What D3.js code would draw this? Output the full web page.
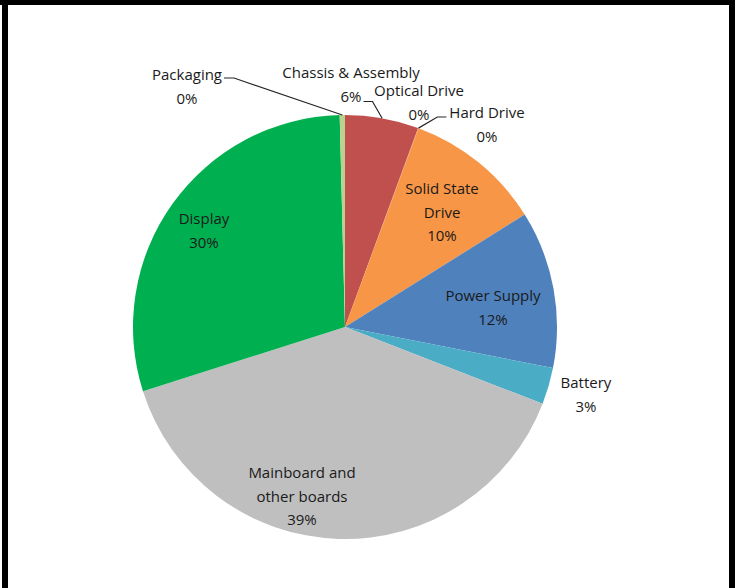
<!DOCTYPE html>
<html><head><meta charset="utf-8">
<script src="https://cdn.jsdelivr.net/npm/d3@7"></script>
<style>
html,body{margin:0;padding:0;background:#fff;}
svg{display:block;}
text{font-family:"Open Sans",Lato,sans-serif;font-size:15px;fill:#1a1a1a;}
</style></head>
<body>
<svg id="c" width="737" height="588"></svg>
<script>
const categories = ["Chassis & Assembly","Optical Drive","Hard Drive","Solid State Drive","Power Supply","Battery","Mainboard and other boards","Display","Packaging"];
const values = [5.6, 0.02, 0.02, 10.46, 12.0, 2.8, 39.2, 29.5, 0.4];
const colors = ["#c0504d","#c0504d","#f79646","#f79646","#4f81bd","#4bacc6","#bfbfbf","#00b050","#bad18f"];
const labelLines = [["Chassis & Assembly"],["Optical Drive"],["Hard Drive"],["Solid State","Drive"],["Power Supply"],["Battery"],["Mainboard and","other boards"],["Display"],["Packaging"]];

// layout (label anchor positions relative to pie centre)
const layout = [
  {dx:6, dy:-254, leader:true},
  {dx:74, dy:-236, leader:false},
  {dx:142, dy:-214, leader:true},
  {dx:97, dy:-138},
  {dx:148, dy:-31},
  {dx:241, dy:56},
  {dx:-43, dy:146},
  {dx:-141, dy:-108},
  {dx:-158, dy:-252, leader:true}
];

const svg = d3.select("#c");
// frame
svg.append("rect").attr("x",0).attr("y",0).attr("width",735).attr("height",5).attr("fill","#000");
svg.append("rect").attr("x",2).attr("y",0).attr("width",6).attr("height",588).attr("fill","#000");
svg.append("rect").attr("x",729).attr("y",0).attr("width",6).attr("height",588).attr("fill","#000");

const cx = 345, cy = 327, r = 212;
const g = svg.append("g").attr("transform",`translate(${cx},${cy})`);
const pie = d3.pie().sort(null).value(d=>d);
const arcs = pie(values);
const arc = d3.arc().innerRadius(0).outerRadius(r);
const edge = d3.arc().innerRadius(r).outerRadius(r);

g.selectAll("path.slice").data(arcs).enter().append("path")
  .attr("class","slice").attr("d",arc).attr("fill",(d,i)=>colors[i]);

const lh = 23.5;
function leader(pts){
  g.append("polyline").attr("points",pts.map(p=>p.join(",")).join(" "))
    .attr("fill","none").attr("stroke","#262626").attr("stroke-width",1.2);
}
arcs.forEach((d,i)=>{
  const L = layout[i];
  const lines = labelLines[i].concat([Math.round(values[i])+"%"]);
  const t = g.append("text").attr("text-anchor","middle");
  lines.forEach((s,k)=>{
    t.append("tspan").attr("x",L.dx).attr("y",L.dy + k*lh).attr("dy","0.35em").text(s);
  });
  if(L.leader){
    const p = edge.centroid(d);
    const tspans = t.selectAll("tspan").nodes();
    if(i===0){
      const w = tspans[1].getComputedTextLength();
      const sx = L.dx + w/2 + 2, sy = L.dy + lh + 5;
      leader([[sx,sy],[sx+9,sy],p]);
    } else if(i===2){
      const w = tspans[0].getComputedTextLength();
      const sx = L.dx - w/2 - 3, sy = L.dy + 4;
      leader([[sx,sy],[sx-9,sy],p]);
    } else {
      const w = tspans[0].getComputedTextLength();
      const sx = L.dx + w/2 + 2, sy = L.dy + 3;
      leader([[sx,sy],[sx+10,sy],p]);
    }
  }
});
</script>
</body></html>
